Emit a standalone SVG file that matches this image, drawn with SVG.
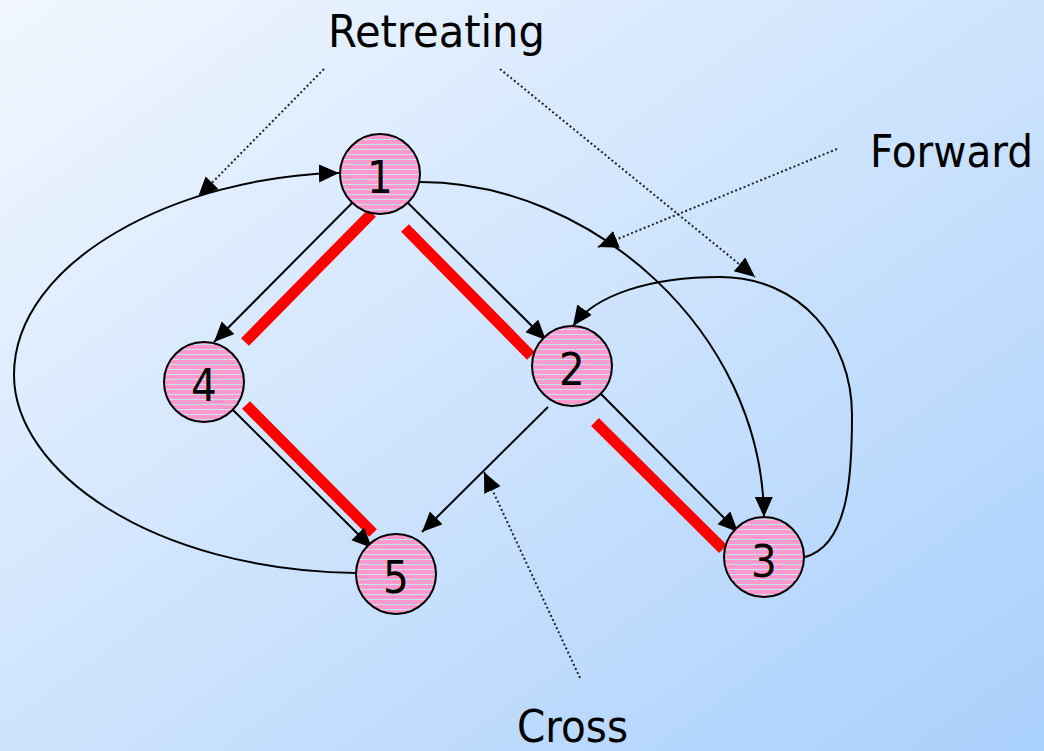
<svg xmlns="http://www.w3.org/2000/svg" width="1044" height="751" viewBox="0 0 1044 751">
  <defs>
    <linearGradient id="bg" x1="0" y1="0" x2="1" y2="1">
      <stop offset="0" stop-color="#f2f7ff"/>
      <stop offset="1" stop-color="#a9d0fc"/>
    </linearGradient>
    <pattern id="stripes" width="10" height="5" patternUnits="userSpaceOnUse">
      <rect width="10" height="5" fill="#ff99cc"/>
      <rect y="4" width="10" height="1" fill="#c4e4f8"/>
    </pattern>
    <marker id="arrow" markerUnits="userSpaceOnUse" markerWidth="22" markerHeight="20" refX="20" refY="9" orient="auto">
      <path d="M0,0 L20,9 L0,18 z" fill="#000"/>
    </marker>
    <style>
      .node circle { fill: url(#stripes); stroke: #000; stroke-width: 2; }
      .node text, .label { font-family: "DejaVu Sans Condensed", "DejaVu Sans", Verdana, sans-serif; font-stretch: condensed; font-size: 45px; fill: #000; }
      .node text { text-anchor: middle; }
      .edge { fill: none; stroke: #000; stroke-width: 2; marker-end: url(#arrow); }
      .note { fill: none; stroke: #222; stroke-width: 2; stroke-dasharray: 2 2.5; marker-end: url(#arrow); }
      .tree { stroke: #ff0000; stroke-width: 11; stroke-linecap: butt; }
    </style>
  </defs>

  <rect width="1044" height="751" fill="url(#bg)"/>

  <!-- depth-first spanning tree edges -->
  <g id="tree-edges">
    <line class="tree" x1="372" y1="213" x2="245" y2="342"/>
    <line class="tree" x1="405" y1="228" x2="531" y2="356"/>
    <line class="tree" x1="246" y1="405" x2="373" y2="533"/>
    <line class="tree" x1="595" y1="422" x2="723" y2="549"/>
  </g>

  <!-- connectors -->
  <g id="connectors">
    <line class="edge" x1="357" y1="198" x2="214" y2="342"/>
    <line class="edge" x1="403" y1="198" x2="546" y2="340"/>
    <line class="edge" x1="228" y1="405" x2="372" y2="548"/>
    <line class="edge" x1="597" y1="390" x2="738" y2="532"/>
    <line class="edge" x1="548" y1="407" x2="422" y2="532"/>
    <!-- forward edge 1 -> 3 -->
    <path class="edge" d="M420,182 C590,182 762,330 764,517"/>
    <!-- retreating edge 3 -> 2 -->
    <path class="edge" d="M805,557 C850,545 852,470 852,415 C852,340 800,277 720,277 C650,277 595,295 573,326"/>
    <!-- retreating edge 5 -> 1 -->
    <path class="edge" d="M356,573 C150,570 14,470 14,375 C14,260 180,176 339,173"/>
  </g>

  <!-- annotation pointers -->
  <g id="annotations">
    <line class="note" x1="324" y1="69" x2="198" y2="197"/>
    <line class="note" x1="500" y1="69" x2="755" y2="277"/>
    <line class="note" x1="837" y1="149" x2="598" y2="247"/>
    <line class="note" x1="580" y1="678" x2="484" y2="472"/>
    <text class="label" x="328" y="47" textLength="217" lengthAdjust="spacingAndGlyphs">Retreating</text>
    <text class="label" x="870" y="167" textLength="163" lengthAdjust="spacingAndGlyphs">Forward</text>
    <text class="label" x="517" y="742" textLength="111" lengthAdjust="spacingAndGlyphs">Cross</text>
  </g>

  <g id="node1" class="node"><circle cx="380" cy="174" r="40"/><text x="380" y="193">1</text></g>
  <g id="node2" class="node"><circle cx="572" cy="366" r="40"/><text x="572" y="385">2</text></g>
  <g id="node3" class="node"><circle cx="764" cy="557" r="40"/><text x="764" y="577">3</text></g>
  <g id="node4" class="node"><circle cx="204" cy="382" r="40"/><text x="204" y="401">4</text></g>
  <g id="node5" class="node"><circle cx="396" cy="574" r="40"/><text x="396" y="593">5</text></g>
</svg>
